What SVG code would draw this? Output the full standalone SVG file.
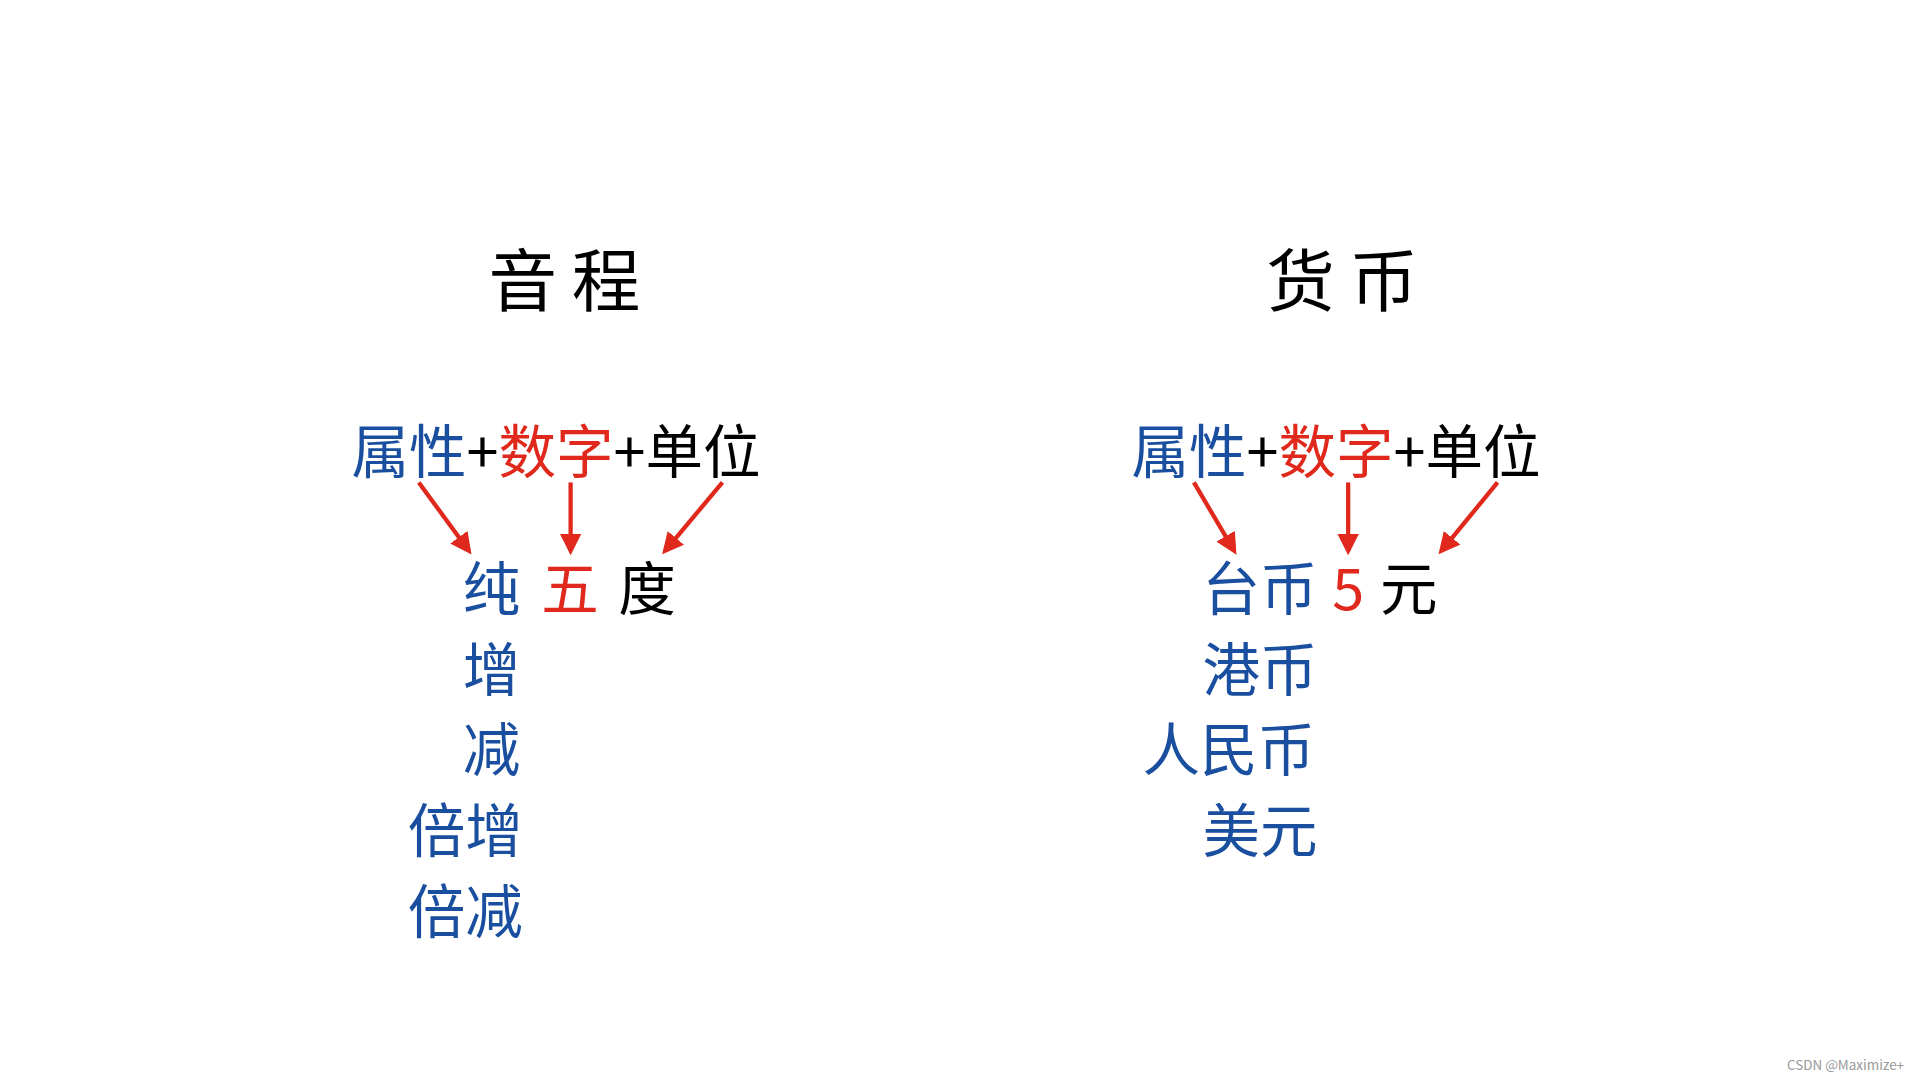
<svg xmlns="http://www.w3.org/2000/svg" width="1920" height="1080" viewBox="0 0 1920 1080">
<style>
text{font-family:"Noto Sans CJK SC","Liberation Sans",sans-serif}
.t{font-size:56px;fill:#000}
.f{font-size:47px}
.b{fill:#1a4fa0}.r{fill:#e0281c}.k{fill:#000}
.c line{stroke:#e0281c;stroke-width:3.5;marker-end:url(#a)}
</style>
<defs><marker id="a" viewBox="0 0 10 10" refX="8" refY="5" markerWidth="5" markerHeight="5" orient="auto"><path d="M0,0L10,5L0,10z" fill="#e0281c"/></marker></defs>
<rect width="1920" height="1080" fill="#fff"/>
<g transform="scale(1.2245)">
<g id="title1"><text class="t" x="467" y="250" text-anchor="middle" letter-spacing="12">音程</text></g>
<g id="title2"><text class="t" x="1102" y="250" text-anchor="middle" letter-spacing="12">货币</text></g>
<g id="formula1"><text class="f" x="287" y="386"><tspan class="b">属性</tspan><tspan class="k">+</tspan><tspan class="r">数字</tspan><tspan class="k">+单位</tspan></text></g>
<g id="formula2"><text class="f" x="924" y="386"><tspan class="b">属性</tspan><tspan class="k">+</tspan><tspan class="r">数字</tspan><tspan class="k">+单位</tspan></text></g>
<g class="c" id="connectors">
<line x1="342" y1="394" x2="383" y2="450"/>
<line x1="466" y1="394" x2="466" y2="450"/>
<line x1="590" y1="394" x2="543" y2="450"/>
<line x1="975" y1="394" x2="1008" y2="450"/>
<line x1="1101" y1="394" x2="1101" y2="450"/>
<line x1="1223" y1="394" x2="1177" y2="450"/>
</g>
<g id="left-values" class="f">
<text x="378" y="498" class="b">纯</text><text x="442" y="498" class="r">五</text><text x="505" y="498" class="k">度</text>
<text x="378" y="564" class="b">增</text>
<text x="378" y="630" class="b">减</text>
<text x="333" y="696" class="b">倍增</text>
<text x="333" y="762" class="b">倍减</text>
</g>
<g id="right-values" class="f">
<text x="982" y="498" class="b">台币</text><text x="1088" y="498" class="r" font-family="Liberation Sans">5</text><text x="1127" y="498" class="k">元</text>
<text x="982" y="564" class="b">港币</text>
<text x="933" y="630" class="b">人民币</text>
<text x="982" y="696" class="b">美元</text>
</g>
<text x="1555" y="874" text-anchor="end" font-size="11" fill="#999" font-family="Liberation Sans,sans-serif">CSDN @Maximize+</text>
</g>
</svg>
